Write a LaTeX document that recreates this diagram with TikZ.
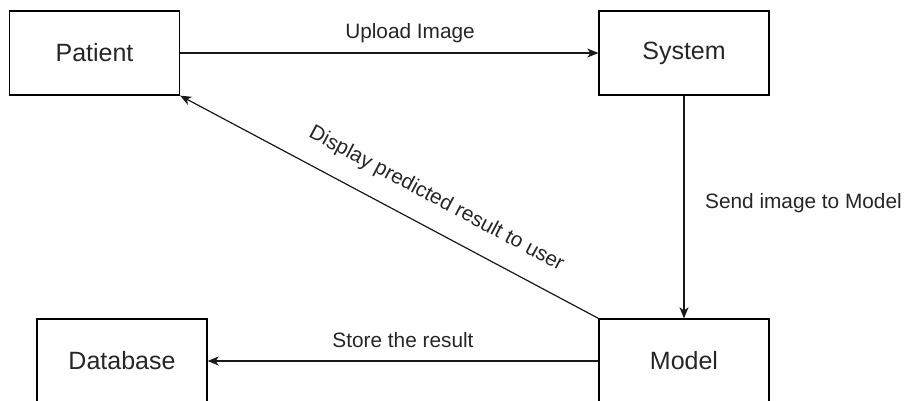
\documentclass[tikz,border=0pt]{standalone}
\usepackage{fontspec}
\setmainfont{Liberation Sans}
\usetikzlibrary{arrows.meta}
\begin{document}
\begin{tikzpicture}[x=1pt,y=-1pt,
  entity/.style={draw=black, line width=1.3pt, minimum width=170pt, minimum height=84pt,
    inner sep=0pt, text=black!85, font=\fontsize{25}{30}\selectfont},
  flow/.style={draw=black!90, line width=1.2pt, -{Stealth[length=11pt,width=9pt,inset=3pt]}},
  flowlabel/.style={text=black!85, font=\fontsize{20.8}{25}\selectfont, inner sep=0pt}]
  \useasboundingbox (0,0) rectangle (904,400);
  \clip (0,0) rectangle (904,400);

  % the four parties of the data flow
  \node[entity] (patient) at (94.5,53) {Patient};
  \node[entity] (system)  at (684,53)  {System};
  \node[entity] (model)   at (684,361) {Model};
  \node[entity] (db)      at (122,361) {Database};

  % flows between them
  \draw[flow] (patient.east) -- (system.west);
  \node[flowlabel, anchor=base] (uplbl) at (410,38) {Upload Image};

  \draw[flow] (system.south) -- (model.north);
  \node[flowlabel, anchor=base west] (sendlbl) at (705,208) {Send image to Model};

  \draw[flow] (model.west) -- (db.east);
  \node[flowlabel, anchor=base] (storelbl) at (403,347) {Store the result};

  \draw[flow, {Stealth[length=11pt,width=9pt,inset=3pt]}-] (patient.south east) -- (model.north west)
    node[flowlabel, pos=0.58, sloped, yshift=29pt] (displbl) {Display predicted result to user};
\end{tikzpicture}
\end{document}
